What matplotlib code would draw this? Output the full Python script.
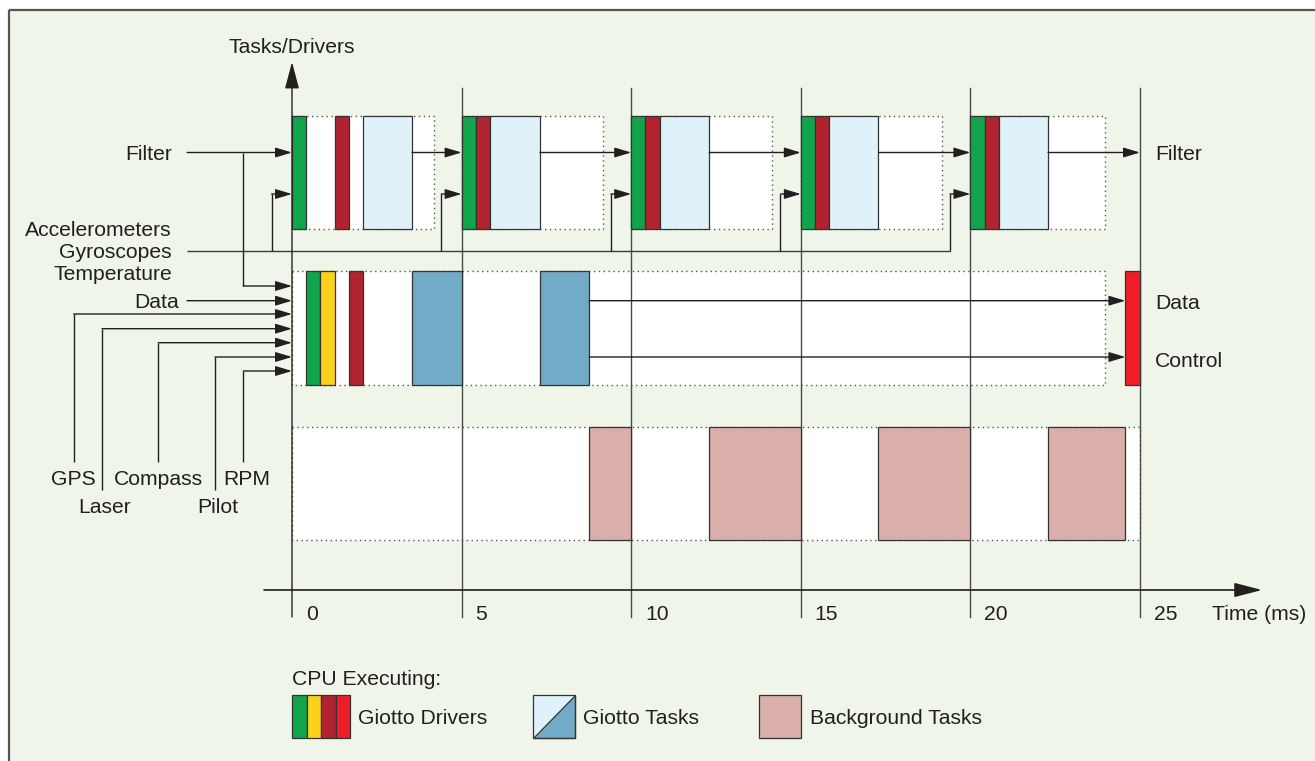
import matplotlib
matplotlib.use('Agg')
import matplotlib.pyplot as plt
from matplotlib.patches import Rectangle, Polygon

plt.rcParams['font.family'] = ['Liberation Sans', 'DejaVu Sans']

# ---- schedule data (ms) ----
periods = [0, 5, 10, 15, 20]
time_ticks = [0, 5, 10, 15, 20, 25]

# Filter task row
filter_green_start = [0.0, 5.0, 10.0, 15.0, 20.0]
filter_green_end = [0.42, 5.42, 10.42, 15.42, 20.42]
filter_red_start = [1.27, 5.42, 10.42, 15.42, 20.42]
filter_red_end = [1.68, 5.84, 10.84, 15.84, 20.84]
filter_task_start = [2.09, 5.84, 10.84, 15.84, 20.84]
filter_task_end = [3.54, 7.31, 12.30, 17.29, 22.29]
filter_window_end = [4.18, 9.17, 14.15, 19.15, 23.98]
gyro_branch_lead = 0.6

# Control task row
control_driver_kind = ['sensor', 'sensor2', 'output', 'actuator']
control_driver_start = [0.42, 0.83, 1.68, 24.57]
control_driver_end = [0.83, 1.27, 2.09, 25.0]
control_task_start = [3.54, 7.31]
control_task_end = [5.0, 8.76]
control_window_end = 23.98

# Background tasks row
background_start = [8.76, 12.30, 17.29, 22.29]
background_end = [10.0, 15.0, 20.0, 24.57]
background_window_end = 25.0

# sensor inputs into the control row
sensor_names = ['GPS', 'Laser', 'Compass', 'Pilot', 'RPM']

# ---- colours / layout ----
GREEN = '#11A44B'
YELLOW = '#FAD21B'
DARK_RED = '#B0232F'
RED = '#EE1D27'
LIGHT_BLUE = '#E0F2F9'
STEEL = '#72ABC7'
PINK = '#DBAFA9'
BG = '#EFF5E8'
INK = '#231F20'
GREY = '#4a4a4a'
kind_color = {'sensor': GREEN, 'sensor2': YELLOW, 'output': DARK_RED, 'actuator': RED}

PX_PER_MS = 33.92
X0_PX = 292
FS = 15.2
LW = 1.0
CAP = 7.6  # half cap height in px, to place text by its visual centre


def px(x):
    return (x - X0_PX) / PX_PER_MS


def w(d):
    return d / PX_PER_MS


ROW1 = (116, 229)
ROW2 = (271, 384.5)
ROW3 = (427, 540)
AXIS_Y = 590
FILTER_Y = 152.5
FILTER_IN2_Y = 194
GYRO_Y = 250.5
DATA_Y = 300.7
CONTROL_Y = 357
ROW2_IN_Y = [286, 300.7, 314, 328.7, 342.7, 357, 371]
SENSOR_X = [73.7, 102, 158.3, 215, 243.3]
SENSOR_BOTTOM = [462, 490, 462, 490, 462]
SENSOR_LABEL_Y = [477, 505, 477, 505, 477]
SENSOR_LABEL_X = [73, 104.5, 158.7, 217.7, 247]

fig = plt.figure(figsize=(13.15, 7.61), dpi=100)
fig.patch.set_facecolor('white')
ax = fig.add_axes([0, 0, 1, 1])
ax.set_xlim(px(0), px(1315))
ax.set_ylim(761, 0)
ax.axis('off')

# panel background with top/left border
ax.add_patch(Rectangle((px(8.5), 10), w(1315), 760, facecolor=BG, edgecolor='none', zorder=0))
ax.plot([px(8.5), px(1315)], [10, 10], color='#555555', lw=1.6, zorder=0.5, solid_capstyle='butt')
ax.plot([px(8.5), px(8.5)], [10, 761], color='#555555', lw=1.6, zorder=0.5, solid_capstyle='butt')


def label(x, y, txt, ha='left'):
    ax.text(x, y + CAP, txt, fontsize=FS, color=INK, ha=ha, va='baseline')


def window(x0, x1, row):
    ax.add_patch(Rectangle((x0, row[0]), x1 - x0, row[1] - row[0], facecolor='white',
                           edgecolor='#555555', lw=1.0, linestyle=(0, (1, 2.5)), zorder=1))


def block(x0, x1, row, color, z=4):
    ax.add_patch(Rectangle((x0, row[0]), x1 - x0, row[1] - row[0], facecolor=color,
                           edgecolor='#333333', lw=0.9, zorder=z))


def arrow(x0, y0, x1, y1, hl=1.0, hw=0.3, ms=10, lw=LW, color=INK):
    ax.annotate('', xy=(x1, y1), xytext=(x0, y0),
                arrowprops=dict(arrowstyle='-|>,head_length=%g,head_width=%g' % (hl, hw),
                                lw=lw, color=color, shrinkA=0, shrinkB=0, mutation_scale=ms),
                zorder=5)


def line(xs, ys, color=INK, z=3):
    ax.plot(xs, ys, color=color, lw=LW, zorder=z, solid_capstyle='butt', solid_joinstyle='miter')


# dotted windows
for p, e in zip(periods, filter_window_end):
    window(p, e, ROW1)
window(0, control_window_end, ROW2)
window(0, background_window_end, ROW3)

# period lines and axes
for t in time_ticks[1:]:
    ax.plot([t, t], [88, 617], color=GREY, lw=LW, zorder=2)
arrow(0, 617, 0, 62, hl=0.83, hw=0.22, ms=20, lw=1.0)
arrow(px(264), AXIS_Y, px(1262), AXIS_Y, hl=0.85, hw=0.22, ms=20, lw=1.2)
for t in time_ticks:
    label(t + w(14), 612, str(t))
label(px(1212), 612, 'Time (ms)')
label(0, 45.5, 'Tasks/Drivers', ha='center')

# filter row blocks
for g0, g1, r0, r1, t0, t1 in zip(filter_green_start, filter_green_end, filter_red_start,
                                  filter_red_end, filter_task_start, filter_task_end):
    block(g0, g1, ROW1, GREEN)
    block(r0, r1, ROW1, DARK_RED)
    block(t0, t1, ROW1, LIGHT_BLUE)

# control row blocks
for k, s, e in zip(control_driver_kind, control_driver_start, control_driver_end):
    block(s, e, ROW2, kind_color[k])
for s, e in zip(control_task_start, control_task_end):
    block(s, e, ROW2, STEEL)

# background blocks
for s, e in zip(background_start, background_end):
    block(s, e, ROW3, PINK)

# filter data flow
arrow(px(187), FILTER_Y, 0, FILTER_Y)
nexts = periods[1:] + [time_ticks[-1]]
for t1, nxt in zip(filter_task_end, nexts):
    arrow(t1, FILTER_Y, nxt, FILTER_Y)
line([px(187), periods[-1] - gyro_branch_lead], [GYRO_Y, GYRO_Y], color='#3c3c3c')
for p in periods:
    b = p - gyro_branch_lead
    line([b, b], [GYRO_Y, FILTER_IN2_Y])
    arrow(b, FILTER_IN2_Y, p, FILTER_IN2_Y)

# inputs to control row
line([px(243.3), px(243.3)], [FILTER_Y, ROW2_IN_Y[0]])
arrow(px(243.3), ROW2_IN_Y[0], 0, ROW2_IN_Y[0])
arrow(px(187), DATA_Y, 0, DATA_Y)
for x, yb, yi in zip(SENSOR_X, SENSOR_BOTTOM, ROW2_IN_Y[2:]):
    line([px(x), px(x)], [yb, yi])
    arrow(px(x), yi, 0, yi)

# control outputs
for y in [DATA_Y, CONTROL_Y]:
    arrow(control_task_end[-1], y, control_driver_start[-1], y)

# labels
for txt, y in [('Filter', FILTER_Y), ('Accelerometers', 228), ('Gyroscopes', GYRO_Y),
               ('Temperature', 272)]:
    label(px(172), y, txt, ha='right')
label(px(179), DATA_Y, 'Data', ha='right')
for name, x, y in zip(sensor_names, SENSOR_LABEL_X, SENSOR_LABEL_Y):
    label(px(x), y, name, ha='center')
for txt, y in [('Filter', FILTER_Y), ('Data', DATA_Y + 1), ('Control', CONTROL_Y + 2)]:
    label(px(1155), y, txt)

# legend
label(0, 677, 'CPU Executing:')
LEG = (695, 737.5)
for i, c in enumerate([GREEN, YELLOW, DARK_RED, RED]):
    x0 = px(292 + i * 14.5)
    block(x0, x0 + w(14.5), LEG, c)
label(px(358), 716, 'Giotto Drivers')
tx0, tx1 = px(532.5), px(575)
ax.add_patch(Polygon([(tx0, LEG[0]), (tx1, LEG[0]), (tx0, LEG[1])], closed=True,
                     facecolor=LIGHT_BLUE, edgecolor='none', zorder=4))
ax.add_patch(Polygon([(tx1, LEG[0]), (tx1, LEG[1]), (tx0, LEG[1])], closed=True,
                     facecolor=STEEL, edgecolor='#333333', lw=0.9, zorder=4))
ax.add_patch(Rectangle((tx0, LEG[0]), tx1 - tx0, LEG[1] - LEG[0], facecolor='none',
                       edgecolor='#333333', lw=0.9, zorder=5))
label(px(583), 716, 'Giotto Tasks')
block(px(759), px(801), LEG, PINK)
label(px(810), 716, 'Background Tasks')

fig.savefig('out.png', dpi=100, facecolor=fig.get_facecolor())
plt.close(fig)
